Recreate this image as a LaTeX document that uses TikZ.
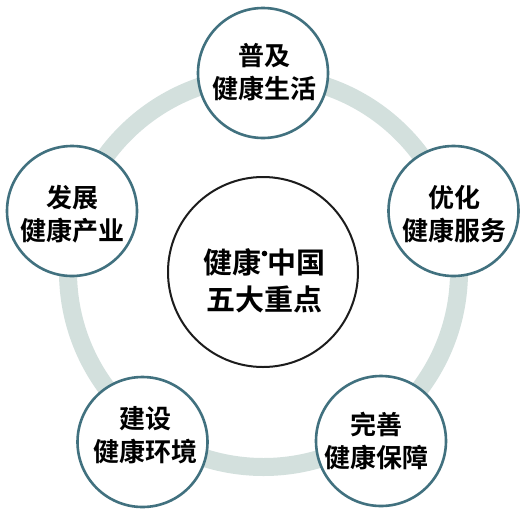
\documentclass[tikz,border=0pt]{standalone}
\usepackage{fontspec}
\newfontfamily\cjk{Noto Sans CJK SC}[BoldFont={Noto Sans CJK SC Bold}]
\definecolor{ringc}{HTML}{D3E0DD}
\definecolor{satc}{HTML}{41717F}
\definecolor{hubc}{HTML}{1C1C1C}
\tikzset{
  sat/.style={circle, draw=satc, line width=2.6pt, fill=white, minimum size=130pt, inner sep=0pt},
  hub/.style={circle, draw=hubc, line width=2pt, fill=white, minimum size=190pt, inner sep=0pt},
  sattext/.style={align=center, font=\cjk\bfseries\fontsize{26}{33}\selectfont, text=black, inner sep=0pt},
  hubtext/.style={align=center, font=\cjk\bfseries\fontsize{29}{37}\selectfont, text=black, inner sep=0pt}
}
\begin{document}
\begin{tikzpicture}[x=1pt,y=-1pt]
\fill[white] (0,0) rectangle (530,512);
\useasboundingbox (0,0) rectangle (530,512);
\coordinate (ringcenter) at (263.5,271.5);
\draw[ringc, line width=18pt] (ringcenter) circle (195.5);
\node[hub] (hub) at (263,272) {};
\node[hubtext] (hubtxt) at (264.5,281) {健康\raisebox{0.6em}{\tikz\fill[black] (0,0) circle (2.8pt);}中国\\五大重点};
\node[sat] (top) at (263,73) {};
\node[sattext] (toptxt) at (264,72) {普及\\健康生活};
\node[sat] (left) at (72,211) {};
\node[sattext] (lefttxt) at (72,214) {发展\\健康产业};
\node[sat] (right) at (453.5,211) {};
\node[sattext] (righttxt) at (454,214) {优化\\健康服务};
\node[sat] (bleft) at (142.5,442) {};
\node[sattext] (blefttxt) at (145,435) {建设\\健康环境};
\node[sat] (bright) at (381,441) {};
\node[sattext] (brighttxt) at (376,441) {完善\\健康保障};
\end{tikzpicture}
\end{document}
